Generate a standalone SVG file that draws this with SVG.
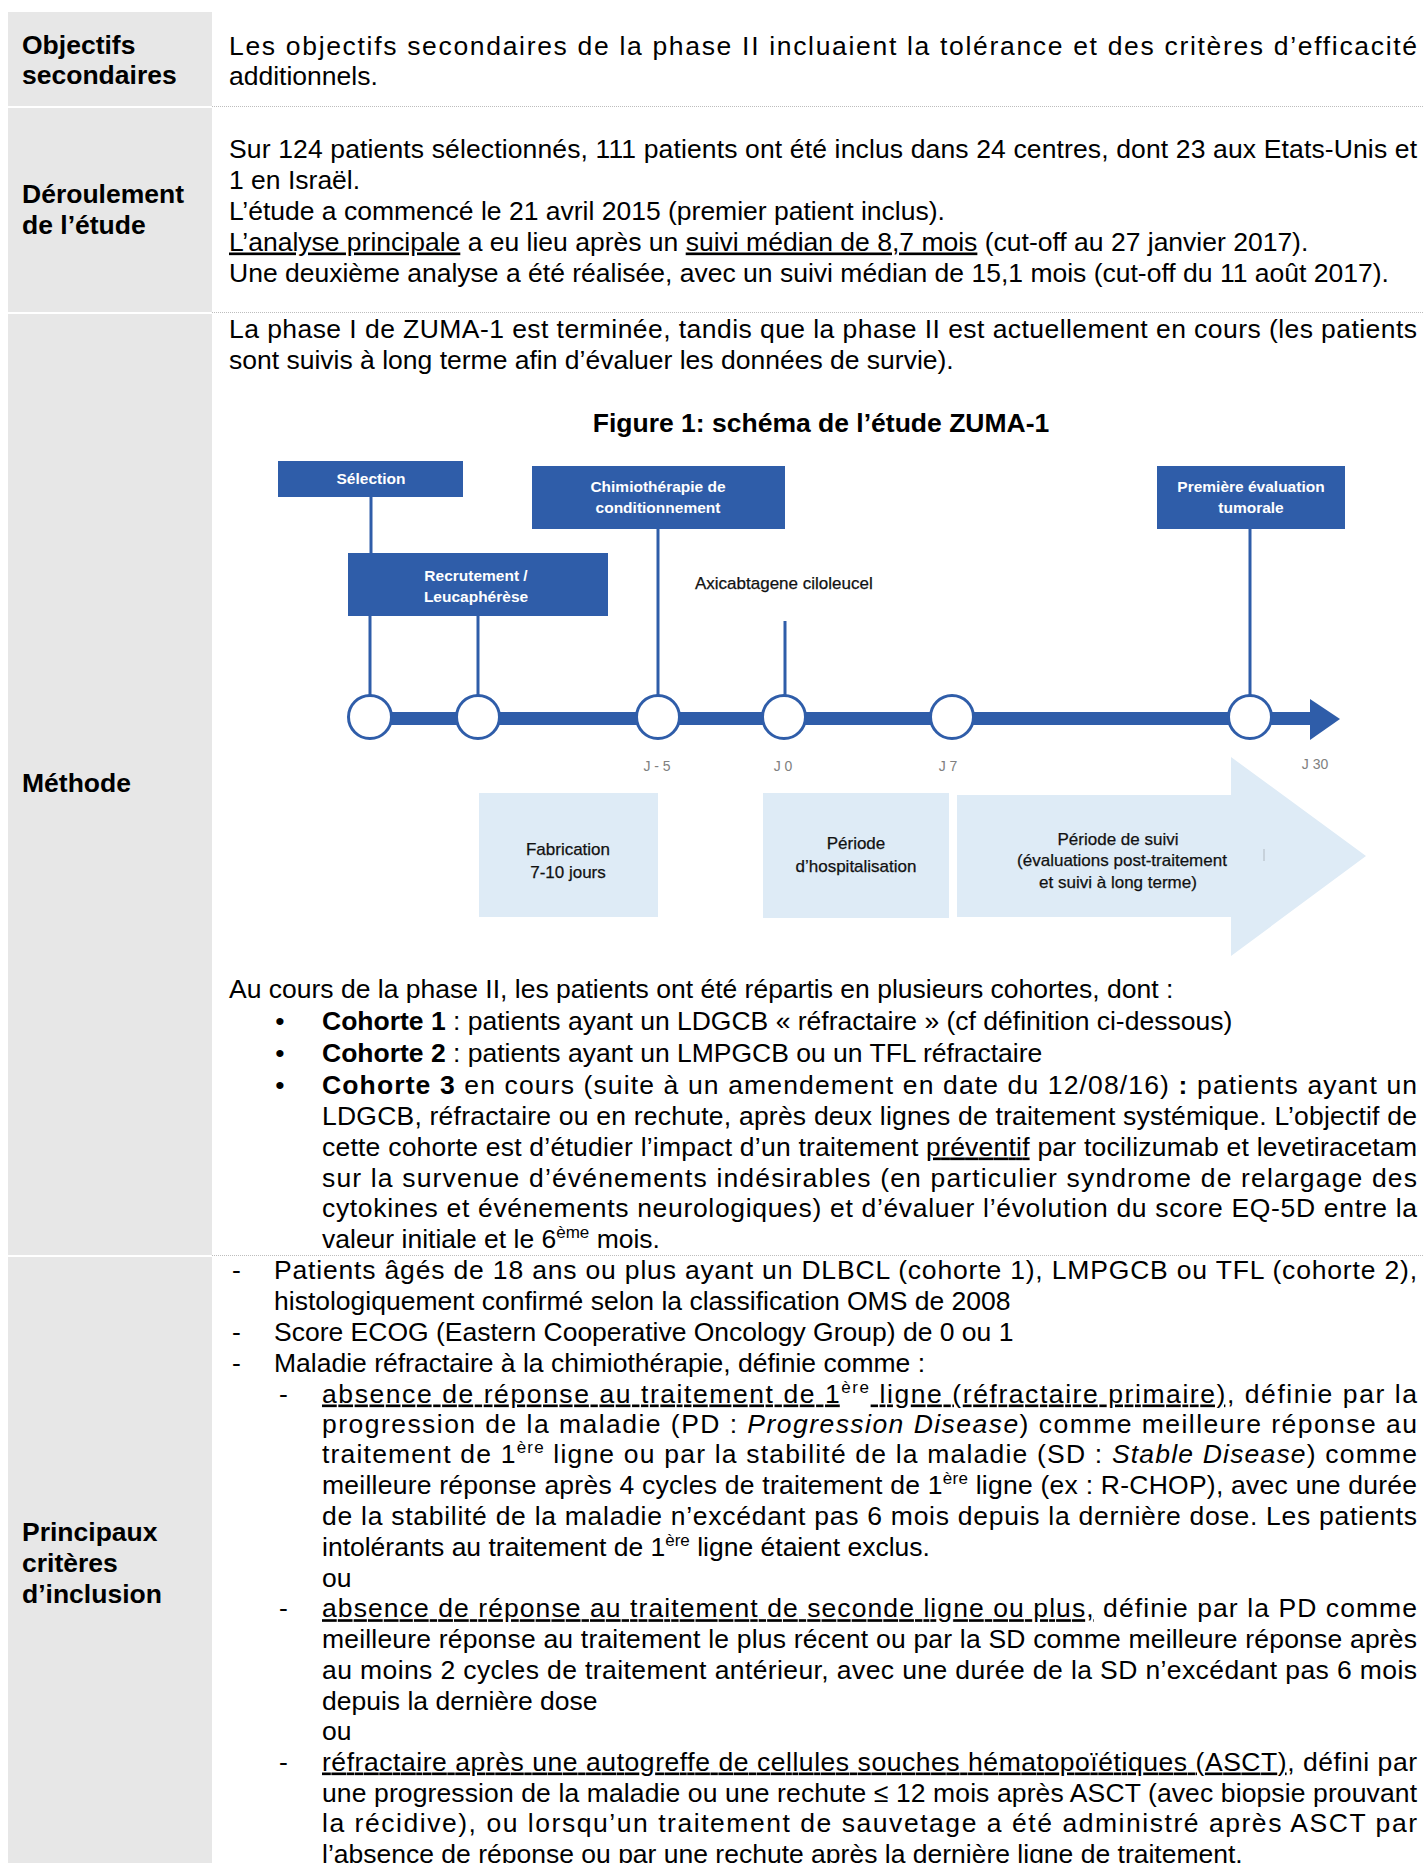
<svg xmlns="http://www.w3.org/2000/svg" width="1423" height="1863" viewBox="0 0 1423 1863">
<style>
text{font-family:"Liberation Sans",Arial,sans-serif}
.t{font-size:26.5px;fill:#000}
.b{font-weight:bold}
.i{font-style:italic}
.u{text-decoration:underline}
.sup{font-size:17px}
.col{fill:#E7E7E7}
.dot{stroke:#BDBDBD;stroke-width:1;stroke-dasharray:1 1}
.box{fill:#2F5DA9}
.wt{fill:#fff;font-size:15.5px;font-weight:bold;text-anchor:middle}
.ft{font-size:17px;fill:#111;text-anchor:middle;stroke:#111;stroke-width:0.25}
.jt{font-size:14px;fill:#808080;text-anchor:middle}
.ln{stroke:#2F5DA9;stroke-width:3;fill:none}
.lb{fill:#DEEBF6}
.circ{fill:#fff;stroke:#2F5DA9;stroke-width:3}
</style>

<g id="label-column">
<rect class="col" x="8" y="12" width="204" height="94"/>
<rect class="col" x="8" y="108" width="204" height="204"/>
<rect class="col" x="8" y="314" width="204" height="941"/>
<rect class="col" x="8" y="1257" width="204" height="606"/>
<line class="dot" x1="212" y1="106.5" x2="1423" y2="106.5"/>
<line class="dot" x1="212" y1="312.5" x2="1423" y2="312.5"/>
<line class="dot" x1="212" y1="1255.5" x2="1423" y2="1255.5"/>
<g transform="translate(0,2)">
<text class="t b" x="22" y="52">Objectifs</text>
<text class="t b" x="22" y="82">secondaires</text>
<text class="t b" x="22" y="201">Déroulement</text>
<text class="t b" x="22" y="232">de l’étude</text>
<text class="t b" x="22" y="790">Méthode</text>
<text class="t b" x="22" y="1539">Principaux</text>
<text class="t b" x="22" y="1570">critères</text>
<text class="t b" x="22" y="1601">d’inclusion</text>
</g>
</g>

<g id="row-objectifs" transform="translate(0,2.5)">
<text class="t" x="229" y="52" textLength="1188" lengthAdjust="spacing">Les objectifs secondaires de la phase II incluaient la tolérance et des critères d’efficacité</text>
<text class="t" x="229" y="82">additionnels.</text>
</g>

<g id="row-deroulement" transform="translate(0,2.5)">
<text class="t" x="229" y="155" textLength="1188" lengthAdjust="spacing">Sur 124 patients sélectionnés, 111 patients ont été inclus dans 24 centres, dont 23 aux Etats-Unis et</text>
<text class="t" x="229" y="186">1 en Israël.</text>
<text class="t" x="229" y="217">L’étude a commencé le 21 avril 2015 (premier patient inclus).</text>
<text class="t" x="229" y="248"><tspan class="u">L’analyse principale</tspan> a eu lieu après un <tspan class="u">suivi médian de 8,7 mois</tspan> (cut-off au 27 janvier 2017).</text>
<text class="t" x="229" y="279">Une deuxième analyse a été réalisée, avec un suivi médian de 15,1 mois (cut-off du 11 août 2017).</text>
</g>

<g id="row-methode" transform="translate(0,2.5)">
<text class="t" x="229" y="335.5" textLength="1188" lengthAdjust="spacing">La phase I de ZUMA-1 est terminée, tandis que la phase II est actuellement en cours (les patients</text>
<text class="t" x="229" y="366.5">sont suivis à long terme afin d’évaluer les données de survie).</text>
<text class="t b" x="821" y="429" text-anchor="middle">Figure 1: schéma de l’étude ZUMA-1</text>

<text class="t" x="229" y="995">Au cours de la phase II, les patients ont été répartis en plusieurs cohortes, dont :</text>
<text class="t" x="280" y="1027" text-anchor="middle">•</text>
<text class="t" x="280" y="1059" text-anchor="middle">•</text>
<text class="t" x="280" y="1091" text-anchor="middle">•</text>
<text class="t" x="322" y="1027"><tspan class="b">Cohorte 1</tspan> : patients ayant un LDGCB « réfractaire » (cf définition ci-dessous)</text>
<text class="t" x="322" y="1059"><tspan class="b">Cohorte 2</tspan> : patients ayant un LMPGCB ou un TFL réfractaire</text>
<text class="t" x="322" y="1091" textLength="1095" lengthAdjust="spacing"><tspan class="b">Cohorte 3</tspan> en cours (suite à un amendement en date du 12/08/16) <tspan class="b">:</tspan> patients ayant un</text>
<text class="t" x="322" y="1122" textLength="1095" lengthAdjust="spacing">LDGCB, réfractaire ou en rechute, après deux lignes de traitement systémique. L’objectif de</text>
<text class="t" x="322" y="1153" textLength="1095" lengthAdjust="spacing">cette cohorte est d’étudier l’impact d’un traitement <tspan class="u">préventif</tspan> par tocilizumab et levetiracetam</text>
<text class="t" x="322" y="1184" textLength="1095" lengthAdjust="spacing">sur la survenue d’événements indésirables (en particulier syndrome de relargage des</text>
<text class="t" x="322" y="1214.5" textLength="1095" lengthAdjust="spacing">cytokines et événements neurologiques) et d’évaluer l’évolution du score EQ-5D entre la</text>
<text class="t" x="322" y="1245.5">valeur initiale et le 6<tspan class="sup" dy="-10">ème</tspan><tspan dy="10"> mois.</tspan></text>
</g>

<g id="figure">
<g id="connectors">
<line class="ln" x1="371" y1="497" x2="371" y2="553"/>
<line class="ln" x1="370" y1="616" x2="370" y2="696"/>
<line class="ln" x1="478" y1="616" x2="478" y2="696"/>
<line class="ln" x1="658" y1="529" x2="658" y2="696"/>
<line class="ln" x1="785" y1="621" x2="785" y2="696"/>
<line class="ln" x1="1250" y1="529" x2="1250" y2="696"/>
</g>
<g id="timeline">
<rect class="box" x="370" y="712" width="942" height="13"/>
<polygon class="box" points="1310,699 1340,719 1310,740"/>
<circle class="circ" cx="370" cy="717" r="21.5"/>
<circle class="circ" cx="478" cy="717" r="21.5"/>
<circle class="circ" cx="658" cy="717" r="21.5"/>
<circle class="circ" cx="784" cy="717" r="21.5"/>
<circle class="circ" cx="952" cy="717" r="21.5"/>
<circle class="circ" cx="1250" cy="717" r="21.5"/>
<text class="jt" x="657" y="771">J - 5</text>
<text class="jt" x="783" y="771">J 0</text>
<text class="jt" x="948" y="771">J 7</text>
<text class="jt" x="1315" y="769">J 30</text>
</g>
<g id="node-selection">
<rect class="box" x="278" y="461" width="185" height="36"/>
<text class="wt" x="371" y="484">Sélection</text>
</g>
<g id="node-recrutement">
<rect class="box" x="348" y="553" width="260" height="63"/>
<text class="wt" x="476" y="581">Recrutement /</text>
<text class="wt" x="476" y="602">Leucaphérèse</text>
</g>
<g id="node-chimio">
<rect class="box" x="532" y="466" width="253" height="63"/>
<text class="wt" x="658" y="492">Chimiothérapie de</text>
<text class="wt" x="658" y="513">conditionnement</text>
</g>
<g id="node-evaluation">
<rect class="box" x="1157" y="466" width="188" height="63"/>
<text class="wt" x="1251" y="492">Première évaluation</text>
<text class="wt" x="1251" y="513">tumorale</text>
</g>
<g id="node-axicabtagene">
<text x="695" y="589" style="font-size:17px;fill:#111;stroke:#111;stroke-width:0.25">Axicabtagene ciloleucel</text>
</g>
<g id="node-fabrication">
<rect class="lb" x="479" y="793" width="179" height="124"/>
<text class="ft" x="568" y="855">Fabrication</text>
<text class="ft" x="568" y="878">7-10 jours</text>
</g>
<g id="node-hospitalisation">
<rect class="lb" x="763" y="793" width="186" height="125"/>
<text class="ft" x="856" y="849">Période</text>
<text class="ft" x="856" y="872">d’hospitalisation</text>
</g>
<g id="node-suivi">
<polygon class="lb" points="957,795 1231,795 1231,757 1366,856 1231,956 1231,917 957,917"/>
<line x1="1264" y1="849" x2="1264" y2="861" stroke="#B0B8C0" stroke-width="1"/>
<text class="ft" x="1118" y="845">Période de suivi</text>
<text class="ft" x="1122" y="866">(évaluations post-traitement</text>
<text class="ft" x="1118" y="888">et suivi à long terme)</text>
</g>
</g>

<g id="row-inclusion" transform="translate(0,2.5)">
<text class="t" x="232" y="1276">-</text>
<text class="t" x="232" y="1338">-</text>
<text class="t" x="232" y="1369">-</text>
<text class="t" x="279" y="1400">-</text>
<text class="t" x="279" y="1614.7">-</text>
<text class="t" x="279" y="1768">-</text>
<text class="t" x="274" y="1276" textLength="1143" lengthAdjust="spacing">Patients âgés de 18 ans ou plus ayant un DLBCL (cohorte 1), LMPGCB ou TFL (cohorte 2),</text>
<text class="t" x="274" y="1307">histologiquement confirmé selon la classification OMS de 2008</text>
<text class="t" x="274" y="1338">Score ECOG (Eastern Cooperative Oncology Group) de 0 ou 1</text>
<text class="t" x="274" y="1369">Maladie réfractaire à la chimiothérapie, définie comme :</text>
<text class="t" x="322" y="1400" textLength="1095" lengthAdjust="spacing"><tspan class="u">absence de réponse au traitement de 1</tspan><tspan class="sup" dy="-10">ère</tspan><tspan class="u" dy="10"> ligne (réfractaire primaire)</tspan>, définie par la</text>
<text class="t" x="322" y="1430" textLength="1095" lengthAdjust="spacing">progression de la maladie (PD : <tspan class="i">Progression Disease</tspan>) comme meilleure réponse au</text>
<text class="t" x="322" y="1460.5" textLength="1095" lengthAdjust="spacing">traitement de 1<tspan class="sup" dy="-10">ère</tspan><tspan dy="10"> ligne ou par la stabilité de la maladie (SD : </tspan><tspan class="i">Stable Disease</tspan>) comme</text>
<text class="t" x="322" y="1491" textLength="1095" lengthAdjust="spacing">meilleure réponse après 4 cycles de traitement de 1<tspan class="sup" dy="-10">ère</tspan><tspan dy="10"> ligne (ex : R-CHOP), avec une durée</tspan></text>
<text class="t" x="322" y="1522" textLength="1095" lengthAdjust="spacing">de la stabilité de la maladie n’excédant pas 6 mois depuis la dernière dose. Les patients</text>
<text class="t" x="322" y="1553">intolérants au traitement de 1<tspan class="sup" dy="-10">ère</tspan><tspan dy="10"> ligne étaient exclus.</tspan></text>
<text class="t" x="322" y="1584">ou</text>
<text class="t" x="322" y="1614.7" textLength="1095" lengthAdjust="spacing"><tspan class="u">absence de réponse au traitement de seconde ligne ou plus,</tspan> définie par la PD comme</text>
<text class="t" x="322" y="1645.6" textLength="1095" lengthAdjust="spacing">meilleure réponse au traitement le plus récent ou par la SD comme meilleure réponse après</text>
<text class="t" x="322" y="1676.5" textLength="1095" lengthAdjust="spacing">au moins 2 cycles de traitement antérieur, avec une durée de la SD n’excédant pas 6 mois</text>
<text class="t" x="322" y="1707">depuis la dernière dose</text>
<text class="t" x="322" y="1737">ou</text>
<text class="t" x="322" y="1768" textLength="1095" lengthAdjust="spacing"><tspan class="u">réfractaire après une autogreffe de cellules souches hématopoïétiques (ASCT)</tspan>, défini par</text>
<text class="t" x="322" y="1799" textLength="1095" lengthAdjust="spacing">une progression de la maladie ou une rechute ≤ 12 mois après ASCT (avec biopsie prouvant</text>
<text class="t" x="322" y="1829" textLength="1095" lengthAdjust="spacing">la récidive), ou lorsqu’un traitement de sauvetage a été administré après ASCT par</text>
<text class="t" x="322" y="1860">l’absence de réponse ou par une rechute après la dernière ligne de traitement.</text>
</g>
</svg>
